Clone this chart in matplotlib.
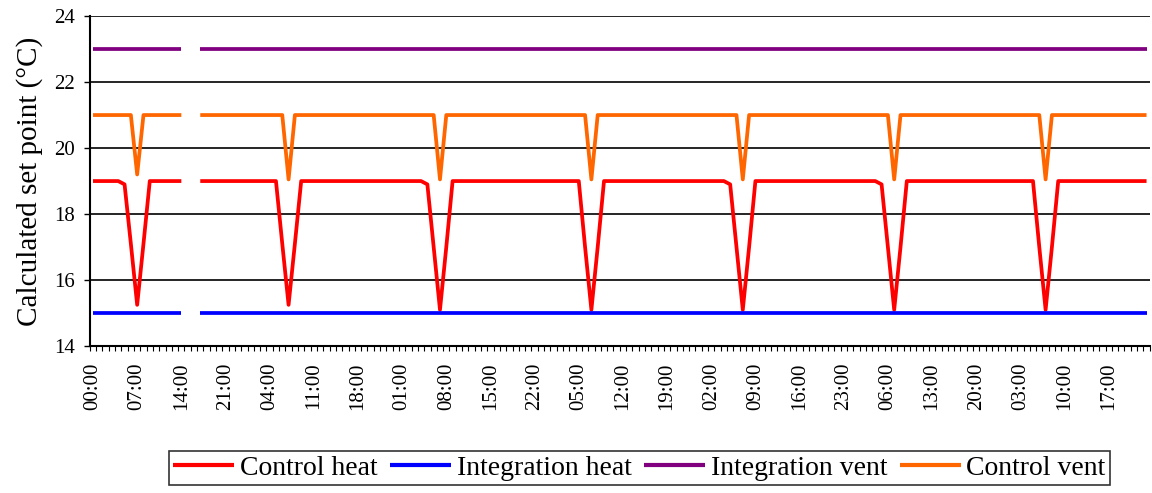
"""Calculated set points over one week: control vs integration heat/vent."""

import matplotlib

matplotlib.use("Agg")
import matplotlib.pyplot as plt  # noqa: E402
import numpy as np  # noqa: E402

plt.rcParams["font.family"] = ["Liberation Serif", "DejaVu Serif"]

# hourly data, 7 days (168 points); hours 15 and 16 of day 1 are missing
n_days = 7
hours = [f"{h % 24:02d}:00" for h in range(24 * n_days)]
missing_hours = [15, 16]

control_heat_base = 19.0
integration_heat_base = 15.0
integration_vent_base = 23.0
control_vent_base = 21.0

# control heat values at 05:00..09:00 of each day (the morning dip)
heat_dip_first_hour = 5
heat_dips = [
    [18.9, 17.1, 15.25, 17.1, 19.0],
    [19.0, 17.1, 15.25, 17.1, 19.0],
    [18.9, 17.0, 15.1, 17.0, 19.0],
    [19.0, 17.0, 15.1, 17.0, 19.0],
    [18.9, 17.0, 15.1, 17.0, 19.0],
    [18.9, 17.0, 15.1, 17.0, 19.0],
    [19.0, 17.0, 15.1, 17.0, 19.0],
]
# control vent value at 07:00 of each day
vent_dip_hour = 7
vent_dips = [19.2, 19.05, 19.05, 19.05, 19.05, 19.05, 19.05]

n = len(hours)
control_heat = np.full(n, control_heat_base)
integration_heat = np.full(n, integration_heat_base)
integration_vent = np.full(n, integration_vent_base)
control_vent = np.full(n, control_vent_base)
for d in range(n_days):
    s = d * 24 + heat_dip_first_hour
    control_heat[s:s + len(heat_dips[d])] = heat_dips[d]
    control_vent[d * 24 + vent_dip_hour] = vent_dips[d]
for arr in (control_heat, integration_heat, integration_vent, control_vent):
    arr[missing_hours] = np.nan

series = [
    ("Control heat", control_heat, "#FF0000"),
    ("Integration heat", integration_heat, "#0000FF"),
    ("Integration vent", integration_vent, "#800080"),
    ("Control vent", control_vent, "#FF6600"),
]

fig = plt.figure(figsize=(11.52, 4.93), dpi=100)
ax = fig.add_axes([0.078, 0.298, 0.920, 0.6695])
x = np.arange(n)
for name, vals, color in series:
    ax.plot(x, vals, color=color, lw=2.7, label=name,
            solid_capstyle="butt", zorder=3)

ax.set_xlim(-0.5, n - 0.5)
ax.set_ylim(14, 24)
ax.set_yticks(range(14, 25, 2))
ax.set_xticks(x[::7])
ax.set_xticklabels(hours[::7], rotation=90)
ax.set_xticks(np.arange(-0.5, n, 1), minor=True)
ax.tick_params(axis="x", which="major", length=0, pad=12, labelsize=15)
ax.tick_params(axis="x", which="minor", length=3.5, width=0.8)
ax.tick_params(axis="y", length=4.5, width=1, pad=6, labelsize=15)
ax.grid(axis="y", color="black", lw=1.2, zorder=1)
for side in ("top", "right"):
    ax.spines[side].set_visible(False)
for side in ("left", "bottom"):
    ax.spines[side].set_linewidth(1.5)
ax.set_ylabel("Calculated set point (°C)", fontsize=21, labelpad=8)

leg = fig.legend(loc="center", ncol=4, bbox_to_anchor=(0.555, 0.051),
                 fontsize=20, frameon=True, fancybox=False, edgecolor="black",
                 handlelength=2.2, handletextpad=0.2, columnspacing=0.45,
                 borderpad=0.15, borderaxespad=0)
leg.get_frame().set_linewidth(1.2)
for h in leg.get_lines():
    h.set_linewidth(3)

fig.savefig("out.png", dpi=100)
